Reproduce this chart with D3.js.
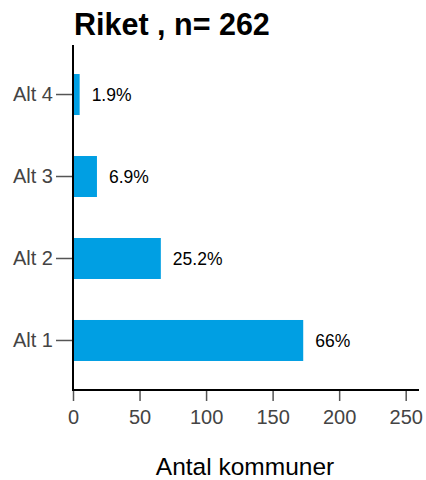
<!DOCTYPE html>
<html><head><meta charset="utf-8">
<script src="https://cdn.jsdelivr.net/npm/d3@7"></script>
<style>body{margin:0;background:#fff}svg{display:block;font-family:"Liberation Sans",Arial,sans-serif}</style>
</head><body>
<script>
const title = "Riket , n= 262";
const categories = ["Alt 4", "Alt 3", "Alt 2", "Alt 1"];
const counts = [5, 18, 66, 173];
const pctLabels = ["1.9%", "6.9%", "25.2%", "66%"];
const xTicks = [0, 50, 100, 150, 200, 250];
const xTitle = "Antal kommuner";

const W = 426, H = 480;
const svg = d3.select("body").append("svg").attr("width", W).attr("height", H);

const x = d3.scaleLinear().domain([0, 260]).range([73, 419]);
const y = d3.scaleBand().domain(categories).range([45, 390]).paddingInner(0.5).paddingOuter(0.354);

svg.append("text").attr("x", 74).attr("y", 35).attr("font-size", 30.5).attr("font-weight", "bold")
  .attr("fill", "#000").text(title);

svg.selectAll("rect.bar").data(categories).enter().append("rect")
  .attr("x", x(0)).attr("y", d => y(d))
  .attr("width", (d, i) => x(counts[i]) - x(0))
  .attr("height", y.bandwidth()).attr("fill", "#009fe3");

svg.selectAll("text.val").data(categories).enter().append("text")
  .attr("x", (d, i) => x(counts[i]) + 12)
  .attr("y", d => y(d) + y.bandwidth() / 2)
  .attr("dy", "0.35em").attr("font-size", 17.5).attr("fill", "#000")
  .text((d, i) => pctLabels[i]);

// y axis
const yAx = svg.append("g").attr("transform", "translate(73,0)")
  .call(d3.axisLeft(y).tickSize(17).tickPadding(3));
yAx.select(".domain").remove();
yAx.selectAll(".tick line").attr("stroke", "#555").attr("stroke-width", 1.5);
yAx.selectAll(".tick text").attr("font-size", 20).attr("fill", "#444").attr("font-family", "Liberation Sans, Arial, sans-serif");

// x axis
const xAx = svg.append("g").attr("transform", "translate(0,390)")
  .call(d3.axisBottom(x).tickValues(xTicks).tickSize(11).tickPadding(9));
xAx.select(".domain").remove();
xAx.selectAll(".tick line").attr("stroke", "#555").attr("stroke-width", 1.5);
xAx.selectAll(".tick text").attr("font-size", 20).attr("fill", "#444").attr("font-family", "Liberation Sans, Arial, sans-serif");

// axis lines
svg.append("line").attr("x1", 73).attr("x2", 73).attr("y1", 45).attr("y2", 391)
  .attr("stroke", "#000").attr("stroke-width", 2);
svg.append("line").attr("x1", 72).attr("x2", 419).attr("y1", 390).attr("y2", 390)
  .attr("stroke", "#000").attr("stroke-width", 2);

svg.append("text").attr("x", 245).attr("y", 475).attr("text-anchor", "middle")
  .attr("font-size", 24.5).attr("fill", "#000").text(xTitle);
</script>
</body></html>
